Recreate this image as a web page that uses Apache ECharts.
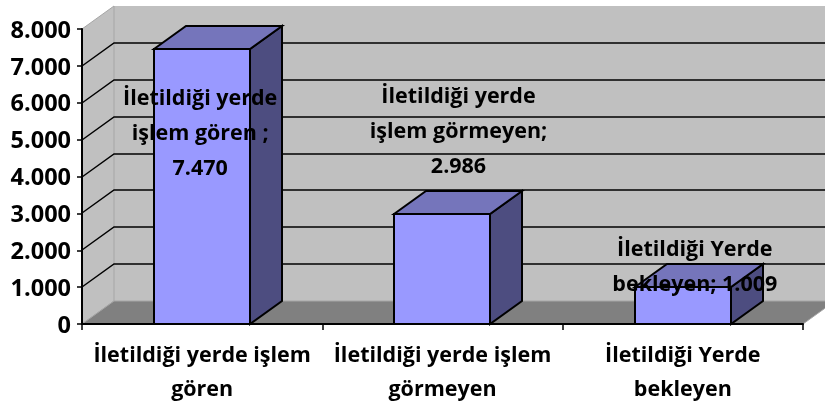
<!DOCTYPE html>
<html>
<head>
<meta charset="utf-8">
<style>
html, body { margin: 0; padding: 0; background: #fff; }
#main { width: 825px; height: 403px; }
</style>
<script src="https://cdn.jsdelivr.net/npm/echarts@6/dist/echarts.min.js"></script>
</head>
<body>
<div id="main"></div>
<script>
// chart values
var categories = ['İletildiği yerde işlem\ngören', 'İletildiği yerde işlem\ngörmeyen', 'İletildiği Yerde\nbekleyen'];
var values = [7470, 2986, 1009];
var dataLabels = ['İletildiği yerde\nişlem gören ;\n7.470', 'İletildiği yerde\nişlem görmeyen;\n2.986', 'İletildiği Yerde\nbekleyen; 1.009'];
var gridValues = [1000, 2000, 3000, 4000, 5000, 6000, 7000];

// label centre relative to the top of the bar front
var labelOffsets = [[-2, 85], [16, -82], [12, -19]];

var DX = 32, DY = -23;
var FONT = '"Open Sans", sans-serif';

function poly(points, fill, stroke, lineWidth) {
    return {
        type: 'polygon',
        shape: { points: points },
        style: { fill: fill, stroke: stroke || null, lineWidth: lineWidth || 0, lineJoin: 'miter' }
    };
}

var myChart = echarts.init(document.getElementById('main'), null, { renderer: 'canvas' });

var option = {
    animation: false,
    backgroundColor: '#fff',
    grid: { left: 82, right: 22, top: 29, bottom: 79, outerBoundsMode: 'none' },
    xAxis: {
        type: 'category',
        data: categories,
        axisLine: { lineStyle: { color: '#000', width: 2 } },
        axisTick: { show: true, length: 6, lineStyle: { color: '#000', width: 1.5 } },
        axisLabel: {
            color: '#000', fontFamily: FONT, fontWeight: 'bold', fontSize: 21.5,
            lineHeight: 34, margin: 15, interval: 0
        },
        z: 5
    },
    yAxis: {
        type: 'value',
        min: 0,
        max: 8000,
        interval: 1000,
        axisLine: { show: true, lineStyle: { color: '#000', width: 2 } },
        axisTick: { show: true, length: 5, lineStyle: { color: '#000', width: 1.5 } },
        splitLine: { show: false },
        axisLabel: {
            margin: 11,
            formatter: function (v) {
                return '{t|' + (v === 0 ? '0' : (v / 1000).toFixed(3)) + '}';
            },
            rich: {
                t: {
                    color: '#000', fontFamily: FONT, fontWeight: 'bold', fontSize: 23.5,
                    padding: [4, 0, 0, 0]
                }
            }
        },
        z: 5
    },
    series: [
        {
            // side wall, back wall and floor
            type: 'custom',
            coordinateSystem: 'cartesian2d',
            clip: false,
            silent: true,
            z: 1,
            data: [[0, 0]],
            renderItem: function (params, api) {
                var cs = params.coordSys;
                var l = cs.x, r = cs.x + cs.width, t = cs.y, b = cs.y + cs.height;
                return {
                    type: 'group',
                    children: [
                        poly([[l + DX, t + DY], [r + DX, t + DY], [r + DX, b + DY], [l + DX, b + DY]], '#c0c0c0'),
                        poly([[l, t], [l + DX, t + DY], [l + DX, b + DY], [l, b]], '#c0c0c0', '#a6a6a6', 1),
                        poly([[l, b], [l + DX, b + DY], [r + DX, b + DY], [r, b]], '#808080', '#a6a6a6', 1)
                    ]
                };
            }
        },
        {
            // gridlines running across the side wall and the back wall
            type: 'custom',
            coordinateSystem: 'cartesian2d',
            clip: false,
            silent: true,
            z: 2,
            data: gridValues.map(function (v) { return [0, v]; }),
            renderItem: function (params, api) {
                var cs = params.coordSys;
                var y = Math.round(api.coord([0, api.value(1)])[1]);
                return {
                    type: 'polyline',
                    shape: {
                        points: [[cs.x, y], [cs.x + DX, y + DY], [cs.x + cs.width + DX, y + DY]]
                    },
                    style: { fill: null, stroke: '#000', lineWidth: 1.5 }
                };
            }
        },
        {
            // 3D bars
            type: 'custom',
            coordinateSystem: 'cartesian2d',
            clip: false,
            z: 3,
            data: values.map(function (v, i) { return [i, v]; }),
            renderItem: function (params, api) {
                var top = api.coord([api.value(0), api.value(1)]);
                var base = api.coord([api.value(0), 0]);
                var w = api.size([1, 0])[0] * 0.4;
                var x0 = Math.round(top[0] - w / 2), x1 = x0 + Math.round(w);
                var y0 = Math.round(top[1]), y1 = Math.round(base[1]);
                return {
                    type: 'group',
                    children: [
                        poly([[x1, y0], [x1 + DX, y0 + DY], [x1 + DX, y1 + DY], [x1, y1]], '#4d4d80', '#000', 2),
                        poly([[x0, y0], [x0 + DX, y0 + DY], [x1 + DX, y0 + DY], [x1, y0]], '#7575bb', '#000', 2),
                        poly([[x0, y0], [x1, y0], [x1, y1], [x0, y1]], '#9999ff', '#000', 2)
                    ]
                };
            }
        },
        {
            // data labels, on top of every bar
            type: 'custom',
            coordinateSystem: 'cartesian2d',
            clip: false,
            silent: true,
            z: 4,
            data: values.map(function (v, i) { return [i, v]; }),
            renderItem: function (params, api) {
                var top = api.coord([api.value(0), api.value(1)]);
                var off = labelOffsets[params.dataIndex];
                return {
                    type: 'text',
                    style: {
                        text: dataLabels[params.dataIndex],
                        x: top[0] + off[0],
                        y: top[1] + off[1],
                        align: 'center',
                        verticalAlign: 'middle',
                        fill: '#000',
                        fontFamily: FONT,
                        fontWeight: 'bold',
                        fontSize: 21.5,
                        lineHeight: 35
                    }
                };
            }
        }
    ]
};

myChart.setOption(option);
</script>
</body>
</html>
